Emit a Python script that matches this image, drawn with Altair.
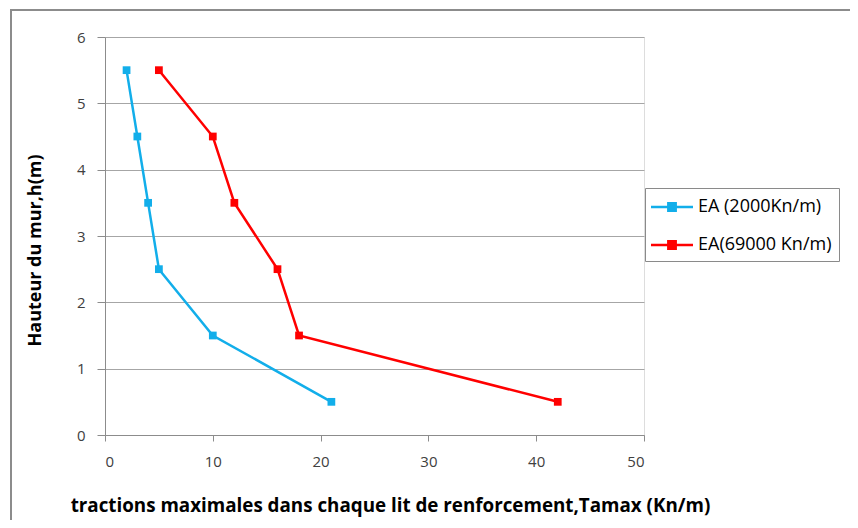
import altair as alt
import pandas as pd

series_names = ["EA (2000Kn/m)", "EA(69000 Kn/m)"]
heights = [5.5, 4.5, 3.5, 2.5, 1.5, 0.5]
t_2000 = [2, 3, 4, 5, 10, 21]
t_69000 = [5, 10, 12, 16, 18, 42]
colors = ["#12AEEA", "#FF0000"]

rows = []
for i, h in enumerate(heights):
    rows.append({"serie": series_names[0], "T": t_2000[i], "h": h, "o": i})
for i, h in enumerate(heights):
    rows.append({"serie": series_names[1], "T": t_69000[i], "h": h, "o": i})
df = pd.DataFrame(rows)

FONT = "Open Sans"

color = alt.Color(
    "serie:N",
    scale=alt.Scale(domain=series_names, range=colors),
    legend=alt.Legend(
        title=None,
        orient="none",
        legendX=540,
        legendY=151,
        strokeColor="#8a8a8a",
        fillColor="white",
        padding=7,
        rowPadding=17,
        labelFontSize=18,
        labelFont=FONT,
        labelColor="#000000",
        symbolType="M-2,0H2M-0.35,-0.35H0.35V0.35H-0.35Z",
        symbolSize=441,
        symbolStrokeWidth=2.5,
        symbolOffset=8,
        labelOffset=14,
    ),
)

xenc = alt.X(
    "T:Q",
    scale=alt.Scale(domain=[0, 50], nice=False),
    axis=alt.Axis(
        values=[0, 10, 20, 30, 40, 50],
        format="d",
        title="tractions maximales dans chaque lit de renforcement,Tamax (Kn/m)",
        titleFont=FONT,
        titleFontSize=18.8,
        titleFontWeight="bold",
        titleColor="#000000",
        titleX=285,
        titleY=70,
        titleBaseline="middle",
        labelFont=FONT,
        labelFontSize=15,
        labelColor="#404040",
        labelPadding=13,
        tickSize=6,
        tickColor="#8c8c8c",
        domainColor="#8c8c8c",
        grid=False,
    ),
)
yenc = alt.Y(
    "h:Q",
    scale=alt.Scale(domain=[0, 6], nice=False),
    axis=alt.Axis(
        values=[0, 1, 2, 3, 4, 5, 6],
        format="d",
        title="Hauteur du mur,h(m)",
        titleFont=FONT,
        titleFontSize=18,
        titleFontWeight="bold",
        titleColor="#000000",
        titleAngle=270,
        titleX=-70,
        titleY=213,
        titleAlign="center",
        titleBaseline="middle",
        labelFont=FONT,
        labelFontSize=15,
        labelColor="#404040",
        labelPadding=12,
        tickSize=8,
        tickColor="#8c8c8c",
        domainColor="#8c8c8c",
        grid=True,
        gridColor="#a6a6a6",
        gridWidth=1,
    ),
)

base = alt.Chart(df)
lines = base.mark_line(strokeWidth=2.5).encode(x=xenc, y=yenc, color=color, order="o:Q")
points = base.mark_point(shape="square", filled=True, size=60, opacity=1).encode(
    x="T:Q", y="h:Q", color=alt.Color("serie:N", scale=alt.Scale(domain=series_names, range=colors), legend=None)
)

frame = alt.Chart(pd.DataFrame({"a": [0]})).mark_rect(
    fill=None, stroke="#8c8c8c", strokeWidth=2
).encode(x=alt.value(-94), x2=alt.value(800), y=alt.value(-27), y2=alt.value(520))

chart = (
    alt.layer(frame, lines, points)
    .properties(
        width=539,
        height=398,
        autosize=alt.AutoSizeParams(type="none"),
        padding={"left": 97, "top": 29, "right": 206, "bottom": 85},
    )
    .configure_view(stroke=None)
    .configure(background="white")
)

chart.save("out.html", embed_options={"renderer": "svg", "actions": False})
